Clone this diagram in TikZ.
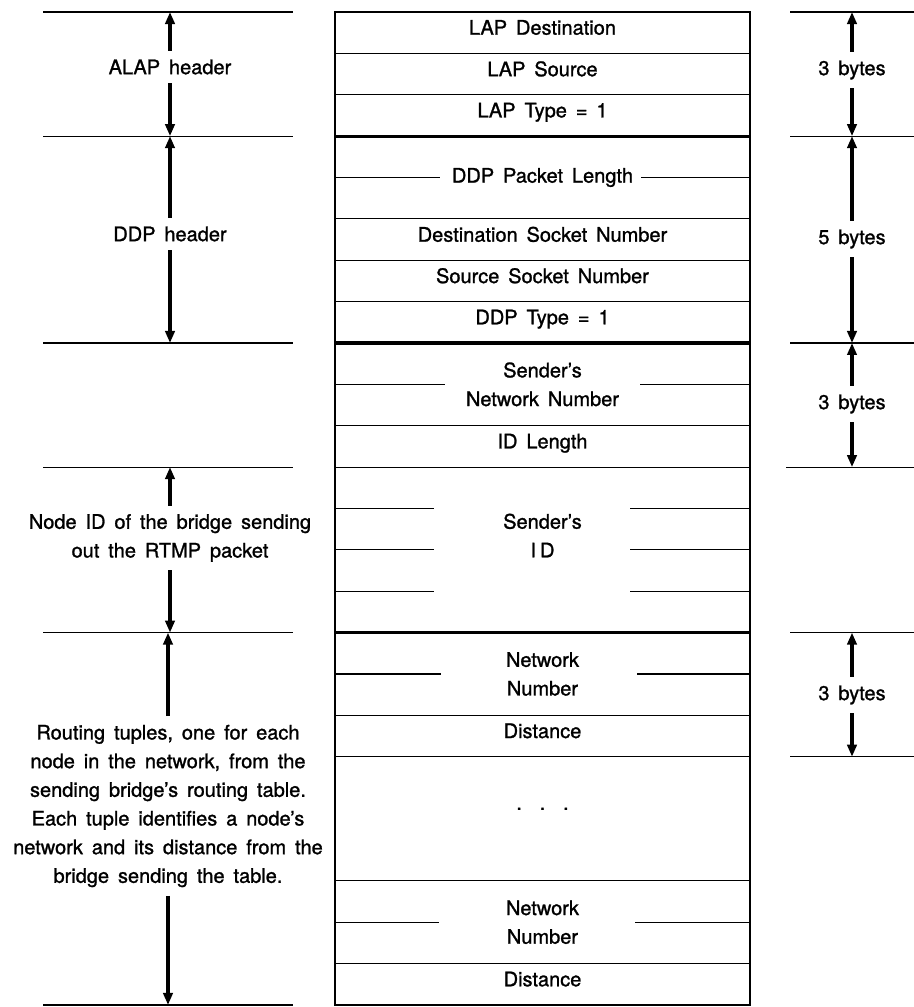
\documentclass[tikz,border=0pt]{standalone}
\usepackage{fontspec}
\setmainfont{TeX Gyre Heros}[WordSpace=1.6, FakeBold=1.2]
\usetikzlibrary{arrows.meta,positioning}

\begin{document}
\begin{tikzpicture}[x=0.75pt, y=-0.75pt,
      font=\fontsize{15}{21.5}\selectfont, line width=0.9pt,
      field/.style={draw, minimum width=311.25pt, minimum height=31.03pt,
                    inner sep=0pt, outer sep=0pt, align=center, text depth=8pt},
      field2/.style={field, minimum height=62.06pt},
      lab/.style={align=center, inner xsep=2pt, inner ysep=6pt},
      extent/.style={line width=3pt, -{Triangle[length=9pt,width=7pt]}},
      heavy/.style={line width=2.4pt}
    ]
    \useasboundingbox (0,0) rectangle (914,1007);
    \node[field] (lapd) at (542.5,32.69) {LAP Destination};
    \node[field, below=0pt of lapd] (laps) {LAP Source};
    \node[field, below=0pt of laps] (lapt) {LAP Type = 1};
    \node[field2, below=0pt of lapt, text depth={}] (ddplen) {DDP Packet Length};
    \node[field, below=0pt of ddplen] (dsock) {Destination Socket Number};
    \node[field, below=0pt of dsock] (ssock) {Source Socket Number};
    \node[field, below=0pt of ssock] (ddpt) {DDP Type = 1};
    \node[field2, below=0pt of ddpt, text depth={}] (snet) {Sender's\\Network Number};
    \node[field, below=0pt of snet] (idlen) {ID Length};
    \node[field, minimum height=124.13pt, below=0pt of idlen, text depth={}] (sid) {Sender's\\I\kern3pt D\\\mbox{}};
    \node[field2, below=0pt of sid, text depth={}] (net1) {Network\\Number};
    \node[field, below=0pt of net1] (dist1) {Distance};
    \node[field, minimum height=93.09pt, below=0pt of dist1, text depth=15pt] (more) {.\ \ .\ \ .};
    \node[field2, below=0pt of more, text depth={}] (net2) {Network\\Number};
    \node[field, below=0pt of net2] (dist2) {Distance};
    \draw (ddplen.west) -- +(105,0);
    \draw (ddplen.east) -- +(-109,0);
    \draw (snet.west) -- +(110,0);
    \draw (snet.east) -- +(-110,0);
    \foreach \k in {1,2,3} {
      \draw ([yshift=-\k*31.03pt]sid.north west) -- +(99,0);
      \draw ([yshift=-\k*31.03pt]sid.north east) -- +(-120,0);
    }
    \draw (net1.west) -- +(106,0);
    \draw (net1.east) -- +(-113,0);
    \draw (net2.west) -- +(104,0);
    \draw (net2.east) -- +(-115,0);
    \draw[heavy] (lapt.south west) -- (lapt.south east);
    \draw[heavy] (ddpt.south west) -- (ddpt.south east);
    \draw[heavy] (sid.south west) -- (sid.south east);

    \node[lab] (alap) at (170,67) {ALAP header};
    \node[lab] (ddph) at (170,234) {DDP header};
    \node[lab] (nodeid) at (170,538) {Node ID of the bridge sending\\out the RTMP packet};
    \node[lab] (tuples) at (168,806) {Routing tuples, one for each\\node in the network, from the\\sending bridge's routing table.\\Each tuple identifies a node's\\network and its distance from the\\bridge sending the table.};
    \draw (43,0 |- lapd.north) -- (293,0 |- lapd.north);
    \draw (43,0 |- lapt.south) -- (293,0 |- lapt.south);
    \draw (43,0 |- ddpt.south) -- (293,0 |- ddpt.south);
    \draw (43,0 |- idlen.south) -- (293,0 |- idlen.south);
    \draw (43,0 |- sid.south) -- (293,0 |- sid.south);
    \draw (43,0 |- dist2.south) -- (293,0 |- dist2.south);
    \draw[extent] (alap) -- (alap |- lapd.north);
    \draw[extent] (alap) -- (alap |- lapt.south);
    \draw[extent] (ddph) -- (ddph |- lapt.south);
    \draw[extent] (ddph) -- (ddph |- ddpt.south);
    \draw[extent] (nodeid) -- (nodeid |- idlen.south);
    \draw[extent] (nodeid) -- (nodeid |- sid.south);
    \draw[extent] (tuples) -- (tuples |- sid.south);
    \draw[extent] (tuples) -- (tuples |- dist2.south);

    \node[lab] (b1) at (852,70) {3 bytes};
    \node[lab] (b2) at (852,239) {5 bytes};
    \node[lab] (b3) at (852,404) {3 bytes};
    \node[lab] (b4) at (852,695) {3 bytes};
    \draw (790,0 |- lapd.north) -- (914,0 |- lapd.north);
    \draw (790,0 |- lapt.south) -- (914,0 |- lapt.south);
    \draw (790,0 |- ddpt.south) -- (914,0 |- ddpt.south);
    \draw (786,0 |- idlen.south) -- (914,0 |- idlen.south);
    \draw (790,0 |- sid.south) -- (914,0 |- sid.south);
    \draw (790,0 |- dist1.south) -- (914,0 |- dist1.south);
    \draw[extent] (b1) -- (b1 |- lapd.north);
    \draw[extent] (b1) -- (b1 |- lapt.south);
    \draw[extent] (b2) -- (b2 |- lapt.south);
    \draw[extent] (b2) -- (b2 |- ddpt.south);
    \draw[extent] (b3) -- (b3 |- ddpt.south);
    \draw[extent] (b3) -- (b3 |- idlen.south);
    \draw[extent] (b4) -- (b4 |- sid.south);
    \draw[extent] (b4) -- (b4 |- dist1.south);
\end{tikzpicture}
\end{document}
